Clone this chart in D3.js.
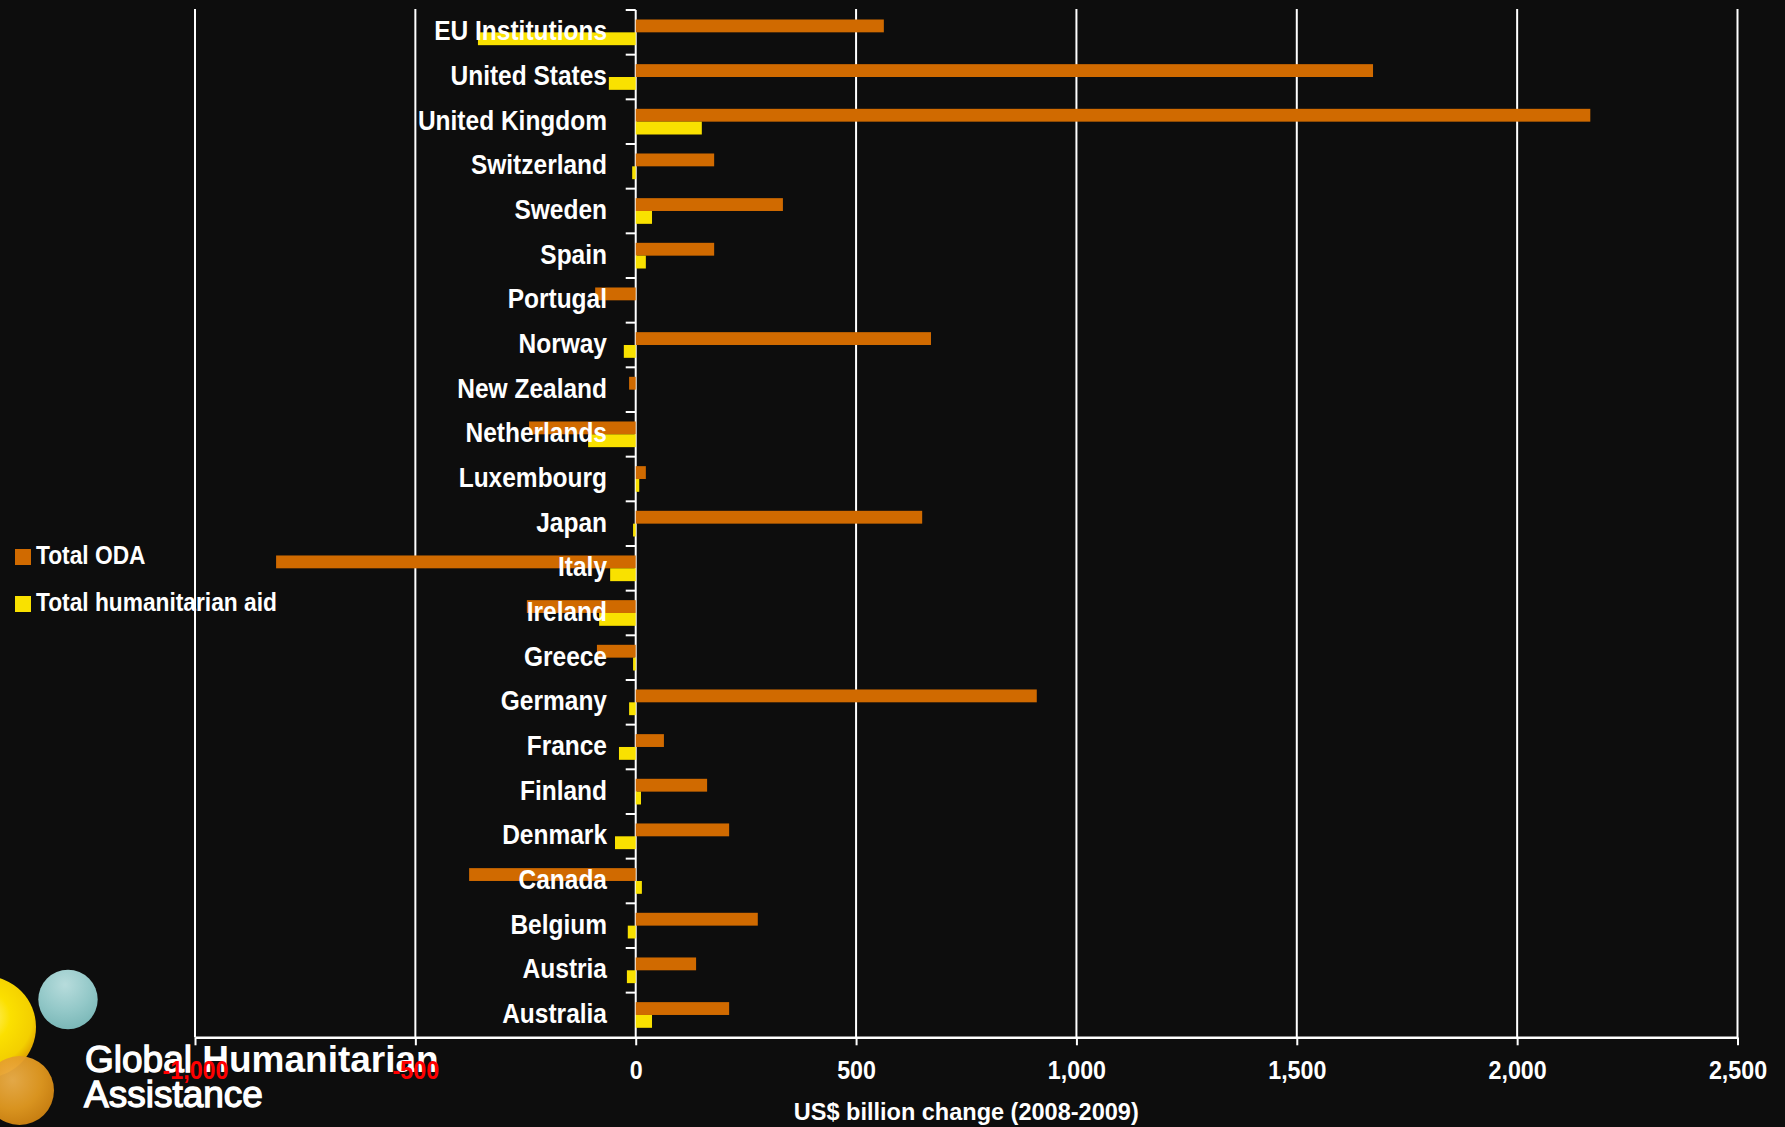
<!DOCTYPE html>
<html>
<head>
<meta charset="utf-8">
<script src="https://cdn.jsdelivr.net/npm/d3@7"></script>
<style>
  html, body { margin: 0; padding: 0; background: #0d0d0d; }
  svg { display: block; }
  text { font-family: "Liberation Sans", Arial, sans-serif; }
</style>
</head>
<body>
<svg id="chart" width="1785" height="1127"></svg>
<script>
// ---- data ----
const categories = ["EU Institutions","United States","United Kingdom","Switzerland","Sweden","Spain","Portugal","Norway","New Zealand","Netherlands","Luxembourg","Japan","Italy","Ireland","Greece","Germany","France","Finland","Denmark","Canada","Belgium","Austria","Australia"];
const totalODA = [563, 1673, 2166, 178, 334, 178, -92, 670, -15, -242, 23, 650, -816, -247, -88, 910, 64, 162, 212, -378, 277, 137, 212];
const totalHumanitarian = [-358, -61, 150, -8, 37, 23, 0, -27, 0, -108, 8, -6, -58, -83, -6, -15, -38, 12, -47, 14, -18, -20, 37];
const seriesNames = ["Total ODA", "Total humanitarian aid"];
const seriesColors = ["#d06a00", "#f9e100"];
const tickValues = [-1000, -500, 0, 500, 1000, 1500, 2000, 2500];
const tickLabels = ["-1,000", "-500", "0", "500", "1,000", "1,500", "2,000", "2,500"];
const axisTitle = "US$ billion change (2008-2009)";

const rows = categories.map((c, i) => ({ cat: c, values: [totalODA[i], totalHumanitarian[i]] }));

const svg = d3.select("#chart");
const W = 1785, H = 1127;
svg.append("rect").attr("width", W).attr("height", H).attr("fill", "#0d0d0d");

const plotLeft = 195, plotRight = 1737.5, plotTop = 10, plotBottom = 1037.3;

const x = d3.scaleLinear().domain([-1000, 2500]).range([plotLeft, plotRight]);
const y = d3.scaleBand().domain(categories).range([plotTop, plotBottom]).paddingInner(0.425).paddingOuter(0.2125);
const ySub = d3.scaleBand().domain([0, 1]).range([0, y.bandwidth()]);

// ---- logo (drawn first, under the axis labels) ----
const defs = svg.append("defs");
function radial(id, stops, cx, cy, r) {
  const g = defs.append("radialGradient").attr("id", id).attr("cx", cx).attr("cy", cy).attr("r", r);
  stops.forEach(s => g.append("stop").attr("offset", s[0]).attr("stop-color", s[1]));
}
radial("gYellow", [[0, "#fff27a"], [0.45, "#fbe000"], [0.85, "#f3cf00"], [1, "#e2a800"]], "50%", "40%", "55%");
radial("gTeal", [[0, "#b7dcdc"], [0.6, "#93c8c8"], [1, "#7bb8b8"]], "45%", "25%", "75%");
radial("gOrange", [[0, "#eeb04a"], [0.6, "#e39a20"], [1, "#cf8210"]], "40%", "35%", "70%");
const logo = svg.append("g");
logo.append("circle").attr("cx", -15).attr("cy", 1027).attr("r", 51).attr("fill", "url(#gYellow)");
logo.append("circle").attr("cx", 68).attr("cy", 999.5).attr("r", 29.7).attr("fill", "url(#gTeal)");
logo.append("circle").attr("cx", 19.5).attr("cy", 1090.5).attr("r", 34.5).attr("fill", "url(#gOrange)").attr("opacity", 0.95);
const lt = logo.append("text").attr("x", 85).attr("y", 1071.5).attr("fill", "#ffffff").attr("font-size", 37);
lt.append("tspan").attr("stroke", "#ffffff").attr("stroke-width", 1.3).text("Global ");
lt.append("tspan").attr("font-weight", "bold").text("Humanitarian");
logo.append("text").attr("x", 84).attr("y", 1106.5).attr("fill", "#ffffff").attr("font-size", 37)
  .attr("stroke", "#ffffff").attr("stroke-width", 1.3).text("Assistance");

// ---- gridlines ----
svg.append("g").selectAll("line").data(tickValues.filter(v => v !== 0)).join("line")
  .attr("x1", d => x(d)).attr("x2", d => x(d))
  .attr("y1", 9).attr("y2", plotBottom)
  .attr("stroke", "#ffffff").attr("stroke-width", 2);

// ---- zero axis line ----
svg.append("line").attr("x1", x(0)).attr("x2", x(0)).attr("y1", plotTop).attr("y2", plotBottom)
  .attr("stroke", "#ffffff").attr("stroke-width", 2);

// category boundary ticks
const step = y.step();
const boundaries = categories.map(c => y(c) - (step - y.bandwidth()) / 2);
svg.append("g").selectAll("line").data(boundaries).join("line")
  .attr("x1", x(0) - 10).attr("x2", x(0))
  .attr("y1", d => d).attr("y2", d => d)
  .attr("stroke", "#ffffff").attr("stroke-width", 2);

// ---- bars ----
const groups = svg.append("g").selectAll("g").data(rows).join("g")
  .attr("transform", d => `translate(0,${y(d.cat)})`);
groups.selectAll("rect").data(d => d.values.map((v, i) => ({ v, i }))).join("rect")
  .attr("x", d => x(Math.min(0, d.v)))
  .attr("width", d => Math.abs(x(d.v) - x(0)))
  .attr("y", d => ySub(d.i))
  .attr("height", ySub.bandwidth())
  .attr("fill", d => seriesColors[d.i]);

// ---- x axis ----
const xAxis = d3.axisBottom(x).tickValues(tickValues)
  .tickFormat((d, i) => tickLabels[i]).tickSize(8).tickSizeOuter(0).tickPadding(16);
const gx = svg.append("g").attr("transform", `translate(0,${plotBottom})`).call(xAxis);
gx.select(".domain").attr("stroke", "#ffffff").attr("stroke-width", 2.5);
gx.selectAll(".tick line").attr("stroke", "#ffffff").attr("stroke-width", 2);
gx.selectAll(".tick text")
  .attr("fill", d => d < 0 ? "#ff0000" : "#ffffff")
  .attr("font-family", "'Liberation Sans', Arial, sans-serif")
  .attr("font-size", 25).attr("font-weight", "bold")
  .attr("transform", "scale(0.93,1)");

// axis title
svg.append("text").attr("transform", `translate(${(plotLeft + plotRight) / 2},1120) scale(0.98,1)`)
  .attr("text-anchor", "middle").attr("fill", "#ffffff")
  .attr("font-size", 24).attr("font-weight", "bold").text(axisTitle);

// ---- category labels (on top of bars) ----
svg.append("g").selectAll("text").data(categories).join("text")
  .attr("transform", d => `translate(607,${y(d) + y.bandwidth() / 2 + 8}) scale(0.875,1)`)
  .attr("text-anchor", "end").attr("fill", "#ffffff")
  .attr("font-size", 28).attr("font-weight", "bold").text(d => d);

// ---- legend ----
const legend = svg.append("g").selectAll("g").data(seriesNames).join("g")
  .attr("transform", (d, i) => `translate(15,${[549, 596][i]})`);
legend.append("rect").attr("width", 16).attr("height", 16).attr("fill", (d, i) => seriesColors[i]);
legend.append("text").attr("transform", "translate(21,15) scale(0.91,1)")
  .attr("fill", "#ffffff").attr("font-size", 25).attr("font-weight", "bold").text(d => d);
</script>
</body>
</html>
